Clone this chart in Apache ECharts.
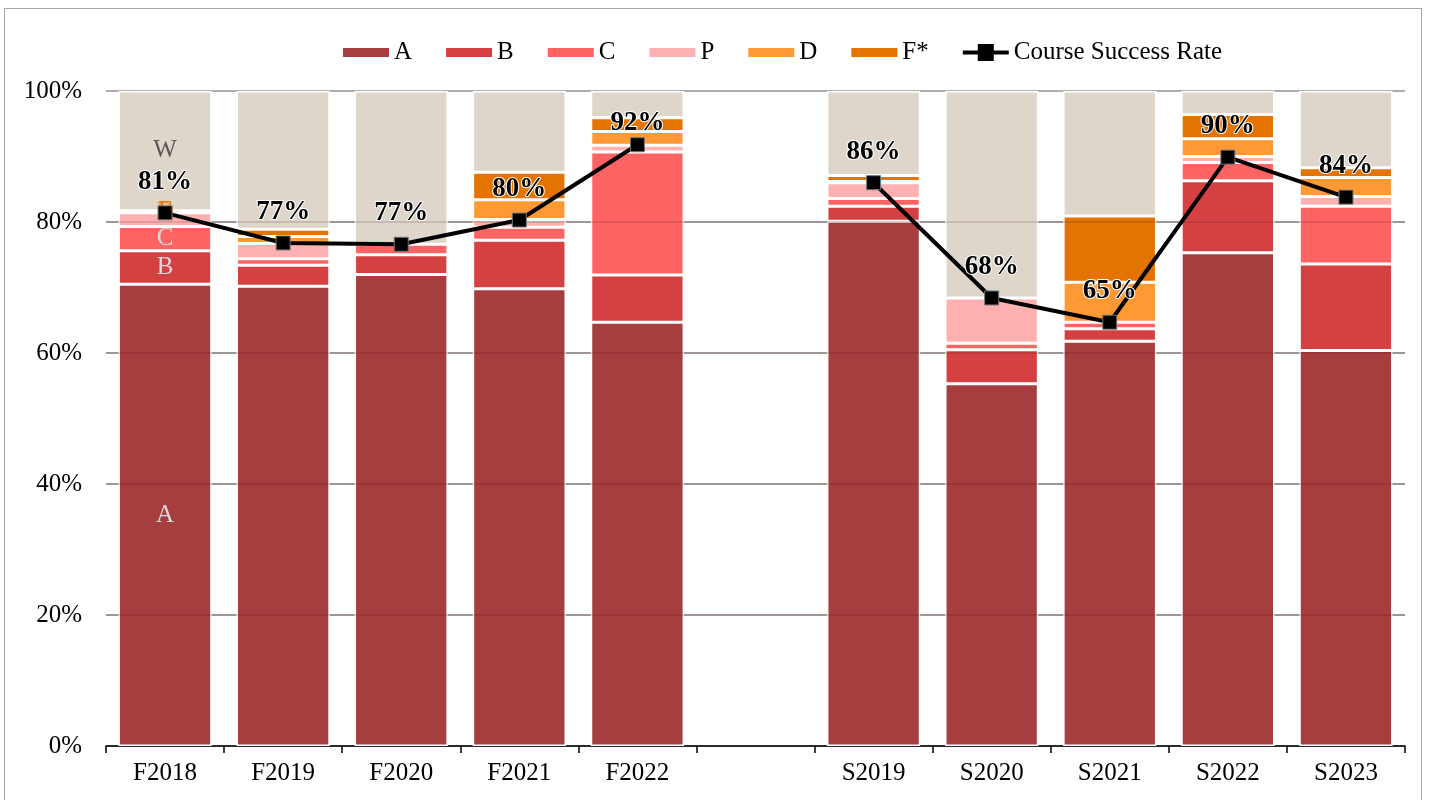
<!DOCTYPE html>
<html><head><meta charset="utf-8">
<script src="https://cdn.jsdelivr.net/npm/echarts@6/dist/echarts.min.js"></script>
<style>
html,body{margin:0;padding:0;background:#fff;}
#frame{position:absolute;left:4px;top:8px;width:1418px;height:800px;border:1px solid #a6a6a6;box-sizing:border-box;}
#chart{position:absolute;left:0;top:0;width:1431px;height:800px;}
</style></head>
<body><div id="frame"></div><div id="chart"></div>
<script>
const categories = ['F2018','F2019','F2020','F2021','F2022','','S2019','S2020','S2021','S2022','S2023'];
const gradeA = [70.5, 70.2, 72.0, 69.8, 64.7, null, 80.1, 55.3, 61.8, 75.3, 60.4];
const gradeB = [5.1, 3.2, 3.0, 7.4, 7.2, null, 2.3, 5.2, 1.9, 11.0, 13.2];
const gradeC = [3.7, 1.0, 1.6, 2.0, 18.8, null, 1.2, 1.0, 1.0, 2.8, 8.8];
const gradeP = [2.1, 2.3, 0, 1.2, 1.0, null, 2.4, 6.9, 0, 0.9, 1.5];
const gradeD = [0.15, 1.1, 0, 3.0, 2.1, null, 0.2, 0, 6.1, 2.7, 2.9];
const gradeF = [0.15, 1.1, 0, 4.2, 2.1, null, 0.9, 0, 10.1, 3.7, 1.5];
const gradeW = [18.3, 21.1, 23.4, 12.4, 4.1, null, 12.9, 31.6, 19.1, 3.6, 11.7];
const successRate = [81.4, 76.8, 76.6, 80.3, 91.8, null, 86.0, 68.4, 64.7, 89.9, 83.8];
const yTicks = [0, 20, 40, 60, 80, 100];

const FONT = '"Liberation Serif", "Times New Roman", serif';
const chart = echarts.init(document.getElementById('chart'), null, {renderer:'canvas'});

function firstLabel(name, color, extra) {
  return Object.assign({show:true, position:'inside', formatter: (p)=> p.dataIndex===0 ? name : '',
    color: color, fontFamily: FONT, fontSize: 25}, extra||{});
}
function barSeries(name, data, color, label) {
  return {
    name: name, type: 'bar', stack: 'total', data: data, barWidth: '79%',
    itemStyle: {color: color, borderColor: '#ffffff', borderWidth: 1.5},
    label: label || {show:false},
    emphasis: {disabled: true}
  };
}

const series = [
  barSeries('A', gradeA, '#A63E40', firstLabel('A', '#d9d9d9')),
  barSeries('B', gradeB, '#D54142', firstLabel('B', '#d9d9d9')),
  barSeries('C', gradeC, '#FF6464', firstLabel('C', '#d9d9d9')),
  barSeries('P', gradeP, '#FFB0B0'),
  barSeries('D', gradeD, '#FF9933', firstLabel('D', '#F5A04A')),
  barSeries('F*', gradeF, '#E57300', firstLabel('F', '#D97A1A')),
  Object.assign(barSeries('W', gradeW, '#DED5CB', firstLabel('W', '#595959')), {
    markLine: {
      silent: true, symbol: 'none', label: {show:false},
      lineStyle: {color: 'rgba(60,0,0,0.18)', width: 1.5, type: 'solid'},
      data: [{yAxis:20},{yAxis:40},{yAxis:60},{yAxis:80}]
    }
  }),
  {
    name: 'Course Success Rate', type: 'line', connectNulls: false,
    data: successRate.map((v,i)=> i===4 ? {value:v, label:{distance:1}} : v),
    symbol: 'rect', symbolSize: 14, z: 10,
    lineStyle: {color: '#000', width: 4},
    itemStyle: {color: '#000', borderColor: '#777', borderWidth: 1},
    label: {show: true, position: 'top', distance: 10, formatter: (p)=> Math.round(p.value) + '%',
      fontFamily: FONT, fontSize: 27, fontWeight: 'bold', color: '#000',
      textBorderColor: '#fff', textBorderWidth: 2},
    emphasis: {disabled: true}
  }
];

const barIcon = 'path://M0,0 M46,17 M0,4 h46 v9 h-46 z';
const lineIcon = 'path://M0,0 M46,17 M0,6.5 h46 v4 h-46 z M15,0 h16 v17 h-16 z';

chart.setOption({
  animation: false,
  backgroundColor: 'transparent',
  textStyle: {fontFamily: FONT},
  legend: {
    top: 35, left: 338, itemGap: 34, itemWidth: 46, itemHeight: 17,
    itemStyle: {borderWidth: 0},
    data: ['A','B','C','P','D','F*'].map(n=>({name:n, icon: barIcon}))
      .concat([{name:'Course Success Rate', icon: lineIcon, itemStyle:{color:'#000', borderWidth:0}}]),
    textStyle: {fontFamily: FONT, fontSize: 25, color: '#000'}
  },
  grid: {left: 106, right: 26, top: 91, bottom: 54},
  xAxis: {
    type: 'category', data: categories,
    axisLine: {lineStyle: {color: '#000', width: 1.5}},
    axisTick: {show: true, length: 7, lineStyle: {color: '#000', width: 1.5}},
    axisLabel: {fontFamily: FONT, fontSize: 25, color: '#000', margin: 15}
  },
  yAxis: {
    type: 'value', min: 0, max: 100, interval: 20,
    axisLine: {show: false}, axisTick: {show: false},
    splitLine: {lineStyle: {color: '#adadad', width: 2}},
    axisLabel: {formatter: '{value}%', fontFamily: FONT, fontSize: 25, color: '#000', margin: 24}
  },
  series: series
});
</script></body></html>
